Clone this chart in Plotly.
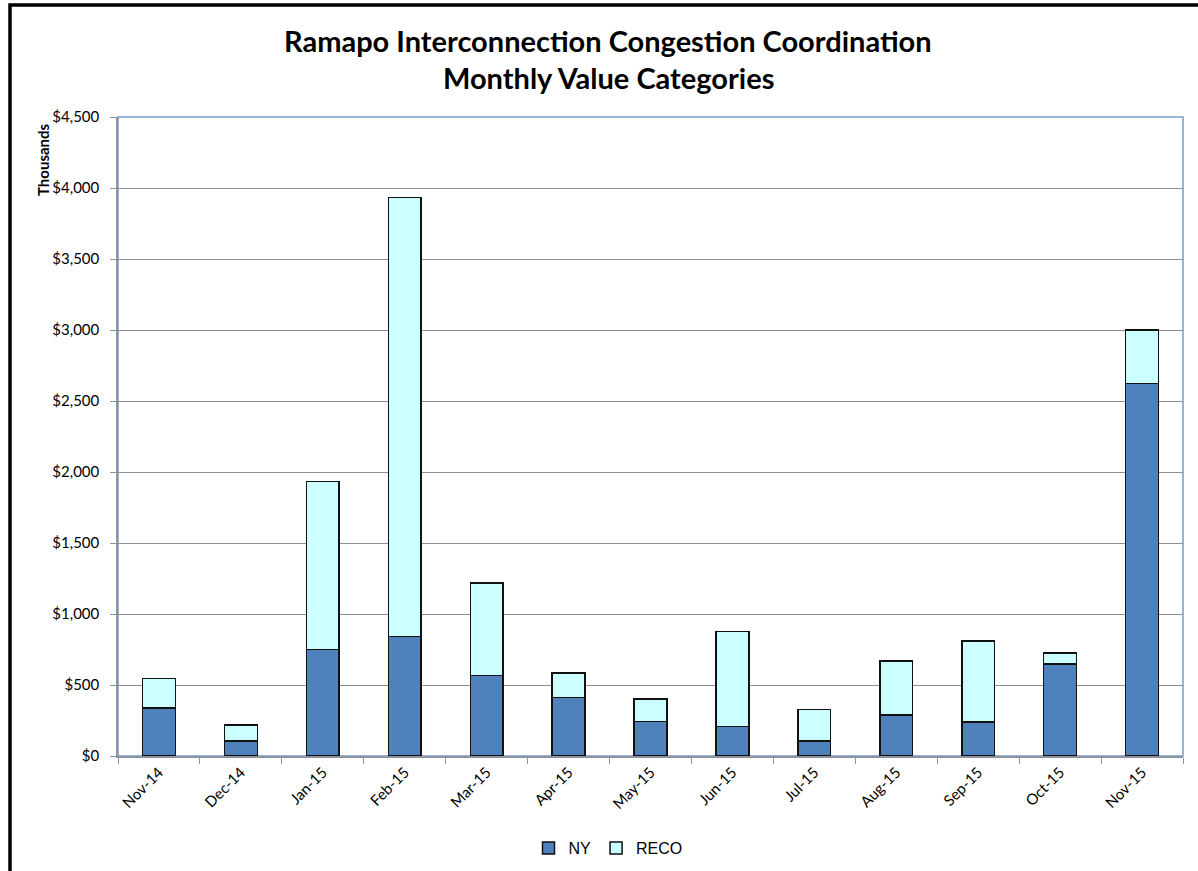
import plotly.graph_objects as go

months = ["Nov-14", "Dec-14", "Jan-15", "Feb-15", "Mar-15", "Apr-15", "May-15",
          "Jun-15", "Jul-15", "Aug-15", "Sep-15", "Oct-15", "Nov-15"]
ny = [337, 105, 750, 842, 566, 412, 243, 208, 105, 290, 240, 647, 2623]
reco = [210, 112, 1183, 3092, 652, 173, 159, 669, 223, 379, 571, 79, 378]
y_ticks = [0, 500, 1000, 1500, 2000, 2500, 3000, 3500, 4000, 4500]
y_tick_labels = ["$0", "$500", "$1,000", "$1,500", "$2,000", "$2,500",
                 "$3,000", "$3,500", "$4,000", "$4,500"]
title_lines = ["Ramapo Interconnection Congestion Coordination", "Monthly Value Categories"]

W, H = 1198, 871
L, R, T, B = 118, 1183, 117, 756


def px(x):
    return (x - L) / (R - L)


def py(y):
    return (B - y) / (B - T)


FONT = "Lato, 'Open Sans', sans-serif"
tick_font = dict(family=FONT, size=15, color="#000")

fig = go.Figure()
fig.add_trace(go.Bar(x=months, y=ny, name="NY",
                     marker=dict(color="#4F81BD", line=dict(color="#111", width=1.5))))
fig.add_trace(go.Bar(x=months, y=reco, name="RECO",
                     marker=dict(color="#CCFFFF", line=dict(color="#111", width=1.5))))

fig.update_layout(
    width=W, height=H,
    barmode="stack", bargap=0.6,
    paper_bgcolor="white", plot_bgcolor="white",
    margin=dict(l=L, r=W - R, t=T, b=H - B, pad=0, autoexpand=False),
    legend=dict(orientation="h", x=px(608), xanchor="center", y=py(848), yanchor="middle",
                font=dict(family="'Liberation Sans', Arial, sans-serif", size=16, color="#000"),
                traceorder="normal", itemwidth=30, bgcolor="rgba(0,0,0,0)"),
    showlegend=True,
)

fig.update_xaxes(
    type="category", tickangle=-45, tickfont=tick_font,
    showline=True, linecolor="#8C959F", linewidth=1.5,
    ticks="outside", tickson="boundaries", ticklen=6, tickcolor="#8C959F",
    showgrid=False, fixedrange=True, automargin=False,
)
fig.update_yaxes(
    range=[0, 4500], tickvals=y_ticks, ticktext=y_tick_labels, tickfont=tick_font,
    showline=True, linecolor="#8C959F", linewidth=1.5,
    ticks="outside", ticklen=6, tickcolor="#8C959F",
    showgrid=True, gridcolor="#8E8E8E", gridwidth=1, zeroline=False,
    ticklabelstandoff=8, automargin=False, fixedrange=True,
)

# plot-area border (blue, top/right)
fig.add_shape(type="rect", xref="paper", yref="paper", x0=0, x1=1, y0=0, y1=1,
              line=dict(color="#7A9CCB", width=1.5), layer="below")
# outer chart frame
fig.add_shape(type="rect", xref="paper", yref="paper",
              x0=px(10), x1=px(1210), y0=py(890), y1=py(5),
              line=dict(color="#000", width=3.5), layer="above")

for text, yc in zip(title_lines, [40, 77]):
    fig.add_annotation(text="<b>" + text + "</b>", xref="paper", yref="paper",
                       x=px(608), y=py(yc), xanchor="center", yanchor="middle",
                       showarrow=False, font=dict(family=FONT, size=29, color="#000"))

fig.add_annotation(text="<b>Thousands</b>", textangle=-90, xref="paper", yref="paper",
                   x=px(43), y=py(160), xanchor="center", yanchor="middle", showarrow=False,
                   font=dict(family=FONT, size=15, color="#000"))

fig.write_html("out.html", config={"displayModeBar": False},
               post_script="document.body.style.margin='0';document.body.style.overflow='hidden';")
